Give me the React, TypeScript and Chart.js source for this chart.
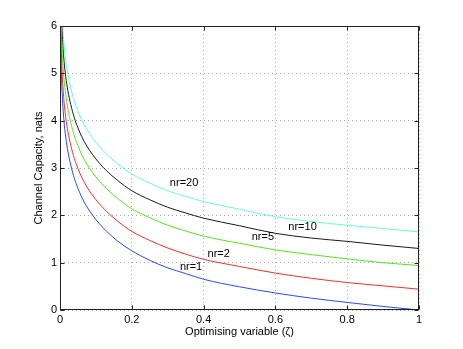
import React, { useEffect, useRef } from "react";
import { Chart, registerables } from "chart.js";

Chart.register(...registerables);

// Optimising variable (zeta) sample positions
const zeta = [0.0008, 0.0015, 0.004, 0.007, 0.011, 0.016, 0.022, 0.03, 0.04, 0.05, 0.06, 0.075, 0.09, 0.11, 0.13, 0.16, 0.2, 0.25, 0.3, 0.35, 0.4, 0.5, 0.6, 0.7, 0.8, 0.9, 1.0];

// Channel capacity (nats) per number of receive antennas
const capNr1 = [6.5, 5.9, 4.97, 4.44, 4.0, 3.65, 3.35, 3.06, 2.78, 2.57, 2.39, 2.18, 2.01, 1.82, 1.66, 1.46, 1.25, 1.05, 0.89, 0.77, 0.65, 0.49, 0.36, 0.25, 0.16, 0.075, 0.0];
const capNr2 = [6.92, 6.32, 5.39, 4.86, 4.42, 4.07, 3.77, 3.48, 3.2, 2.99, 2.81, 2.6, 2.43, 2.24, 2.08, 1.88, 1.66, 1.47, 1.31, 1.18, 1.07, 0.92, 0.78, 0.67, 0.58, 0.51, 0.44];
const capNr5 = [7.4, 6.8, 5.87, 5.34, 4.9, 4.55, 4.25, 3.96, 3.68, 3.47, 3.29, 3.08, 2.91, 2.72, 2.56, 2.36, 2.14, 1.95, 1.79, 1.67, 1.56, 1.41, 1.27, 1.17, 1.08, 1.0, 0.94];
const capNr10 = [7.78, 7.18, 6.25, 5.72, 5.28, 4.93, 4.63, 4.34, 4.06, 3.85, 3.67, 3.46, 3.29, 3.1, 2.94, 2.74, 2.52, 2.33, 2.17, 2.05, 1.94, 1.78, 1.62, 1.52, 1.45, 1.37, 1.3];
const capNr20 = [8.13, 7.53, 6.6, 6.07, 5.63, 5.28, 4.98, 4.69, 4.41, 4.2, 4.02, 3.81, 3.64, 3.45, 3.29, 3.09, 2.87, 2.68, 2.52, 2.4, 2.29, 2.13, 1.97, 1.87, 1.79, 1.72, 1.65];

// In-plot curve labels (data coordinates)
const labelTexts = ["nr=1", "nr=2", "nr=5", "nr=10", "nr=20"];
const labelX = [0.334, 0.411, 0.534, 0.636, 0.306];
const labelY = [0.915, 1.18, 1.54, 1.75, 2.69];

const xTitle = "Optimising variable (\u03B6)";
const yTitle = "Channel Capacity, nats";

const FONT = "'Liberation Sans', Arial, Helvetica, sans-serif";

const toPoints = (ys: number[]) => zeta.map((x, i) => ({ x, y: ys[i] }));

const boxPlugin = {
  id: "matlabBox",
  afterDatasetsDraw(chart: any) {
    const { ctx, chartArea, scales } = chart;
    const { left, right, top, bottom } = chartArea;
    ctx.save();
    // curve labels
    ctx.fillStyle = "#000";
    ctx.font = `11px ${FONT}`;
    ctx.textAlign = "left";
    ctx.textBaseline = "middle";
    labelTexts.forEach((t, i) => {
      ctx.fillText(t, scales.x.getPixelForValue(labelX[i]), scales.y.getPixelForValue(labelY[i]));
    });
    // box
    ctx.strokeStyle = "#222";
    ctx.lineWidth = 1;
    const L = Math.round(left) + 0.5;
    const R = Math.round(right) - 0.5;
    const T = Math.round(top) + 0.5;
    const B = Math.round(bottom) - 0.5;
    ctx.strokeRect(L, T, R - L, B - T);
    // inner ticks
    const tl = 4;
    ctx.beginPath();
    scales.x.ticks.forEach((t: any) => {
      const px = Math.round(scales.x.getPixelForValue(t.value)) + 0.5;
      ctx.moveTo(px, B);
      ctx.lineTo(px, B - tl);
      ctx.moveTo(px, T);
      ctx.lineTo(px, T + tl);
    });
    scales.y.ticks.forEach((t: any) => {
      const py = Math.round(scales.y.getPixelForValue(t.value)) + 0.5;
      ctx.moveTo(L, py);
      ctx.lineTo(L + tl, py);
      ctx.moveTo(R, py);
      ctx.lineTo(R - tl, py);
    });
    ctx.stroke();
    ctx.restore();
  },
};

export default function App() {
  const ref = useRef<HTMLCanvasElement | null>(null);
  useEffect(() => {
    if (!ref.current) return;
    const mk = (label: string, ys: number[], color: string) => ({
      label,
      data: toPoints(ys),
      borderColor: color,
      backgroundColor: color,
      borderWidth: 1,
      pointRadius: 0,
      fill: false,
      cubicInterpolationMode: "monotone" as const,
    });
    const chart = new Chart(ref.current, {
      type: "line",
      data: {
        datasets: [
          mk("nr=1", capNr1, "#2a48ff"),
          mk("nr=2", capNr2, "#ff2a2a"),
          mk("nr=5", capNr5, "#55e618"),
          mk("nr=10", capNr10, "#1a1a1a"),
          mk("nr=20", capNr20, "#66ffd6"),
        ],
      },
      options: {
        animation: false,
        responsive: false,
        devicePixelRatio: 1,
        layout: { padding: { left: 0, top: 26, right: 44, bottom: 0 } },
        plugins: { legend: { display: false }, tooltip: { enabled: false } },
        scales: {
          x: {
            type: "linear",
            min: 0,
            max: 1,
            ticks: {
              stepSize: 0.2,
              padding: 3,
              maxRotation: 0,
              color: "#000",
              font: { family: FONT, size: 11 },
              callback: (v: any) => String(Number(Number(v).toFixed(1))),
            },
            grid: { color: "#a8a8a8", lineWidth: 1, drawTicks: false },
            border: { display: false, dash: [1, 3] },
            title: {
              display: true,
              text: xTitle,
              color: "#000",
              font: { family: FONT, size: 11 },
              padding: { top: 0, bottom: 10 },
            },
            afterFit: (s: any) => {
              s.height = 39;
            },
          },
          y: {
            type: "linear",
            min: 0,
            max: 6,
            ticks: {
              stepSize: 1,
              padding: 3,
              color: "#000",
              font: { family: FONT, size: 11 },
            },
            grid: { color: "#a8a8a8", lineWidth: 1, drawTicks: false },
            border: { display: false, dash: [1, 3] },
            title: {
              display: true,
              text: yTitle,
              color: "#000",
              font: { family: FONT, size: 11 },
              padding: { top: 32, bottom: 0 },
            },
            afterFit: (s: any) => {
              s.width = 60;
            },
          },
        },
      },
      plugins: [boxPlugin],
    });
    return () => chart.destroy();
  }, []);
  return (
    <div style={{ position: "absolute", left: 0, top: 0, width: 463, height: 349, background: "#fff" }}>
      <canvas ref={ref} width={463} height={349} style={{ width: 463, height: 349 }} />
    </div>
  );
}
